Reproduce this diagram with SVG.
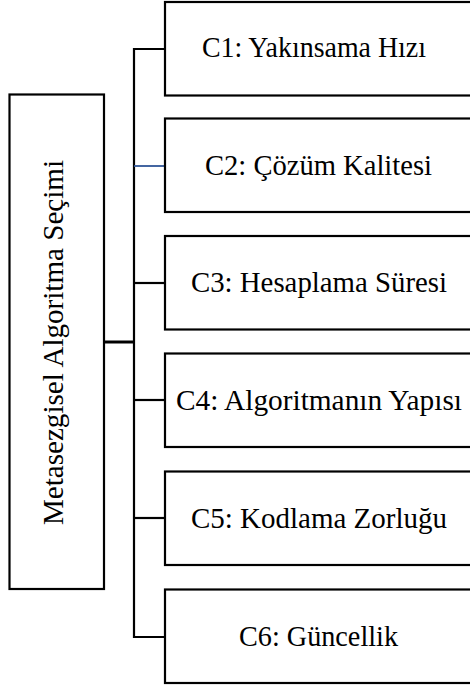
<svg xmlns="http://www.w3.org/2000/svg" width="470" height="688" viewBox="0 0 470 688">
  <style>
    .box { fill: #ffffff; stroke: #000000; stroke-width: 2.2; }
    .lbl { font-family: "Liberation Serif", "DejaVu Serif", "Times New Roman", serif; font-size: 28.5px; fill: #000000; text-anchor: middle; }
    .conn { fill: none; stroke: #000000; stroke-width: 2.2; }
  </style>
  <rect width="470" height="688" fill="#ffffff"/>
  <g id="connectors">
    <path class="conn" d="M165,49 H134 V637 H165"/>
    <line class="conn" x1="134" y1="283" x2="165" y2="283"/>
    <line class="conn" x1="134" y1="400" x2="165" y2="400"/>
    <line class="conn" x1="134" y1="518" x2="165" y2="518"/>
    <line x1="134" y1="166" x2="165" y2="166" stroke="#2F5597" stroke-width="1.8"/>
    <line x1="104" y1="342" x2="134" y2="342" stroke="#000000" stroke-width="3"/>
  </g>
  <g id="root">
    <rect class="box" x="9.5" y="94.5" width="94.5" height="494.5"/>
    <text class="lbl" transform="translate(54,342.5) rotate(-90)" x="0" y="9" textLength="365" lengthAdjust="spacingAndGlyphs">Metasezgisel Algoritma Seçimi</text>
  </g>
  <g id="c1">
    <rect class="box" x="165" y="2" width="312" height="93.5"/>
    <text class="lbl" x="314" y="57" textLength="224" lengthAdjust="spacingAndGlyphs">C1: Yakınsama Hızı</text>
  </g>
  <g id="c2">
    <rect class="box" x="165" y="118.5" width="312" height="93.5"/>
    <text class="lbl" x="318.5" y="174.5" textLength="227" lengthAdjust="spacingAndGlyphs">C2: Çözüm Kalitesi</text>
  </g>
  <g id="c3">
    <rect class="box" x="165" y="236" width="312" height="93.5"/>
    <text class="lbl" x="319" y="292" textLength="256" lengthAdjust="spacingAndGlyphs">C3: Hesaplama Süresi</text>
  </g>
  <g id="c4">
    <rect class="box" x="165" y="353.5" width="312" height="93.5"/>
    <text class="lbl" x="319" y="409.5" textLength="286" lengthAdjust="spacingAndGlyphs">C4: Algoritmanın Yapısı</text>
  </g>
  <g id="c5">
    <rect class="box" x="165" y="471.5" width="312" height="93.5"/>
    <text class="lbl" x="319" y="527.5" textLength="256" lengthAdjust="spacingAndGlyphs">C5: Kodlama Zorluğu</text>
  </g>
  <g id="c6">
    <rect class="box" x="165" y="589.5" width="312" height="93.5"/>
    <text class="lbl" x="318.5" y="645.5" textLength="159" lengthAdjust="spacingAndGlyphs">C6: Güncellik</text>
  </g>
</svg>
